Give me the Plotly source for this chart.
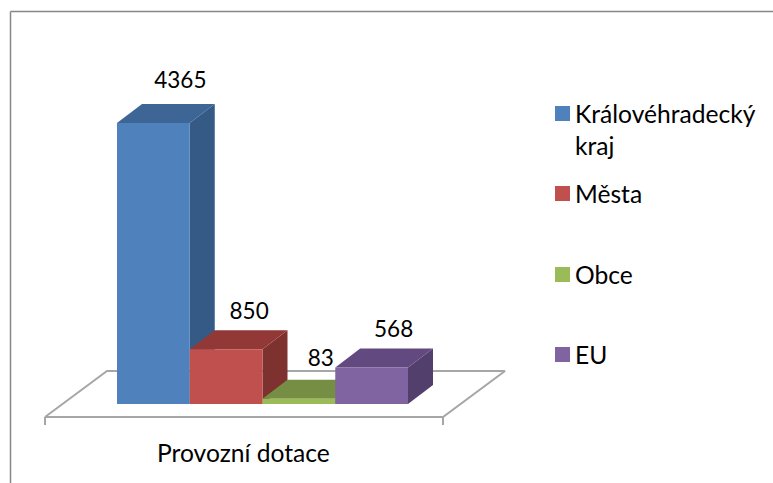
import plotly.graph_objects as go

# values
categories = ["Královéhradecký<br>kraj", "Města", "Obce", "EU"]
values = [4365, 850, 83, 568]
group_label = "Provozní dotace"

front_colors = ["#4F81BD", "#C0504D", "#9BBB59", "#8064A2"]
top_colors = ["#3D6595", "#923937", "#768E43", "#62497F"]
side_colors = ["#345A85", "#7D3230", "#657A3A", "#533F6C"]

WIDTH, HEIGHT = 773, 483
FONT = "Lato"
LABEL_SIZE = 22.5
TEXT_SIZE = 24.6

# pixel scale of the two axes
PX_PER_BAR = 72.75
PX_PER_VALUE = 281 / 4365
LEFT_PX, BASE_PX = 117, 404
DEPTH_X = 25 / PX_PER_BAR
DEPTH_Y = 19 / PX_PER_VALUE

# nudges of the value labels, in pixels
label_shift_x = [2, -2, -3, -3]
label_lift = [10, 6, 8, 6]


def to_u(px):
    return (px - LEFT_PX) / PX_PER_BAR


def to_v(py):
    return (BASE_PX - py) / PX_PER_VALUE


def add_face(fig, xs, ys, color):
    fig.add_trace(
        go.Scatter(
            x=xs + xs[:1],
            y=ys + ys[:1],
            mode="lines",
            line=dict(width=0, color=color),
            fill="toself",
            fillcolor=color,
            hoverinfo="skip",
            showlegend=False,
        )
    )


fig = go.Figure()

# floor outline and the two end ticks
floor_x = [to_u(45), to_u(107), to_u(505), to_u(443), to_u(45)]
floor_y = [to_v(417), to_v(371), to_v(371), to_v(417), to_v(417)]
fig.add_trace(
    go.Scatter(
        x=floor_x,
        y=floor_y,
        mode="lines",
        line=dict(color="#A6A6A6", width=2),
        hoverinfo="skip",
        showlegend=False,
    )
)
for tick_px in [45, 443]:
    fig.add_trace(
        go.Scatter(
            x=[to_u(tick_px), to_u(tick_px)],
            y=[to_v(417), to_v(425)],
            mode="lines",
            line=dict(color="#A6A6A6", width=2),
            hoverinfo="skip",
            showlegend=False,
        )
    )

# bars left to right so that each one covers the faces behind it
for i, value in enumerate(values):
    left, right = i, i + 1
    add_face(
        fig,
        [right, right + DEPTH_X, right + DEPTH_X, right],
        [0, DEPTH_Y, value + DEPTH_Y, value],
        side_colors[i],
    )
    add_face(
        fig,
        [left, left + DEPTH_X, right + DEPTH_X, right],
        [value, value + DEPTH_Y, value + DEPTH_Y, value],
        top_colors[i],
    )
    add_face(fig, [left, right, right, left], [0, 0, value, value], front_colors[i])

fig.add_trace(
    go.Scatter(
        x=[i + 0.5 + DEPTH_X + label_shift_x[i] / PX_PER_BAR for i in range(len(values))],
        y=[v + DEPTH_Y + label_lift[i] / PX_PER_VALUE for i, v in enumerate(values)],
        mode="text",
        text=[str(v) for v in values],
        textposition="top center",
        textfont=dict(family=FONT, size=LABEL_SIZE, color="#000000"),
        hoverinfo="skip",
        showlegend=False,
    )
)

fig.add_annotation(
    x=to_u(243),
    y=to_v(452),
    text=group_label,
    showarrow=False,
    font=dict(family=FONT, size=TEXT_SIZE, color="#000000"),
)

# legend: swatch and label per category
legend_tops = [106, 186, 267, 347]
for name, color, top in zip(categories, front_colors, legend_tops):
    fig.add_shape(
        type="rect",
        xref="paper",
        yref="paper",
        x0=555 / WIDTH,
        x1=570 / WIDTH,
        y0=1 - top / HEIGHT,
        y1=1 - (top + 15) / HEIGHT,
        fillcolor=color,
        line_width=0,
    )
    fig.add_annotation(
        xref="paper",
        yref="paper",
        x=573 / WIDTH,
        y=1 - (top - 9) / HEIGHT,
        xanchor="left",
        yanchor="top",
        align="left",
        text=name,
        showarrow=False,
        font=dict(family=FONT, size=TEXT_SIZE, color="#000000"),
    )

# chart frame, only top and left are in view
frame_color = "#868686"
fig.add_shape(type="line", xref="paper", yref="paper", x0=10.5 / WIDTH, x1=1,
              y0=1 - 11.5 / HEIGHT, y1=1 - 11.5 / HEIGHT, line=dict(color=frame_color, width=1.5))
fig.add_shape(type="line", xref="paper", yref="paper", x0=10.5 / WIDTH, x1=10.5 / WIDTH,
              y0=0, y1=1 - 11.5 / HEIGHT, line=dict(color=frame_color, width=1.5))

fig.update_layout(
    width=WIDTH,
    height=HEIGHT,
    margin=dict(l=0, r=0, t=0, b=0),
    paper_bgcolor="#FFFFFF",
    plot_bgcolor="#FFFFFF",
    showlegend=False,
    xaxis=dict(visible=False, range=[to_u(0), to_u(WIDTH)], fixedrange=True),
    yaxis=dict(visible=False, range=[to_v(HEIGHT), to_v(0)], fixedrange=True),
)

fig.write_html(
    "out.html",
    config={"displayModeBar": False},
    post_script="document.body.style.margin = '0';",
)
